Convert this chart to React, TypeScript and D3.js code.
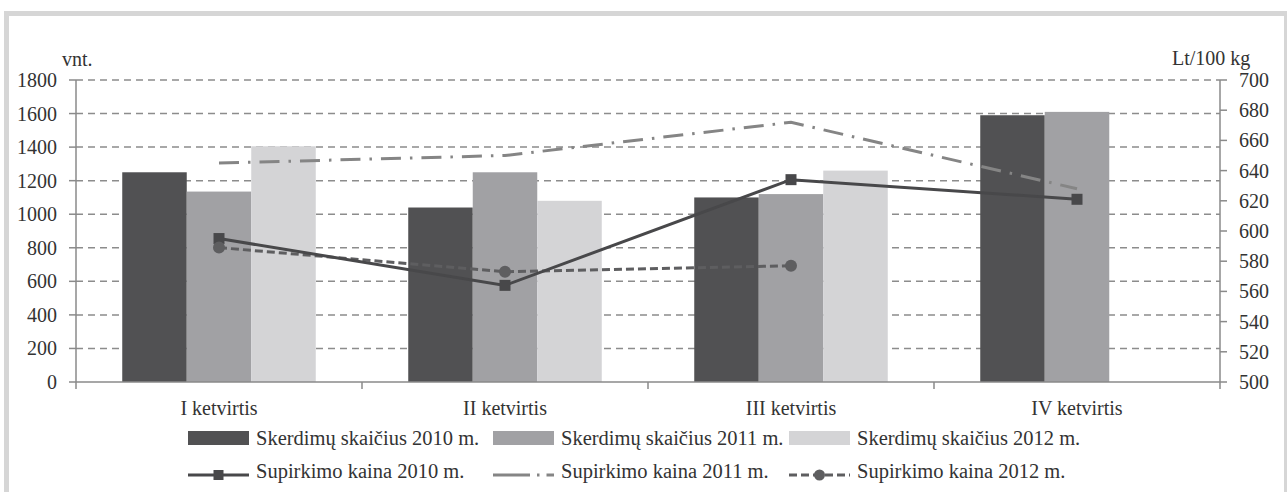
import React from "react";
import * as d3 from "d3";

const categories = ["I ketvirtis", "II ketvirtis", "III ketvirtis", "IV ketvirtis"];
const barSeries = ["Skerdimų skaičius 2010 m.", "Skerdimų skaičius 2011 m.", "Skerdimų skaičius 2012 m."];
const slaughter2010 = [1250, 1040, 1100, 1590];
const slaughter2011 = [1135, 1250, 1120, 1610];
const slaughter2012: (number | null)[] = [1405, 1080, 1260, null];
const lineSeries = ["Supirkimo kaina 2010 m.", "Supirkimo kaina 2011 m.", "Supirkimo kaina 2012 m."];
const price2010 = [595, 564, 634, 621];
const price2011 = [645, 650, 672, 628];
const price2012: (number | null)[] = [589, 573, 577, null];
const leftTicks = [0, 200, 400, 600, 800, 1000, 1200, 1400, 1600, 1800];
const rightTicks = [500, 520, 540, 560, 580, 600, 620, 640, 660, 680, 700];

const W = 1287, H = 492;
const L = 76, R = 1220, T = 80, B = 382;
const FONT = "'Liberation Serif', 'Times New Roman', serif";
const barColors = ["#515153", "#a1a1a4", "#d4d4d6"];
const axisColor = "#8a8a8a";
const textColor = "#333";

export default function App() {
  const x0 = d3.scaleBand<string>().domain(categories).range([L, R]).padding(0);
  const bw = x0.bandwidth();
  const groupW = bw * 0.6766;
  const x1 = d3.scaleBand<string>().domain(barSeries).range([(bw - groupW) / 2, (bw + groupW) / 2]).padding(0);
  const yL = d3.scaleLinear().domain([0, 1800]).range([B, T]);
  const yR = d3.scaleLinear().domain([500, 700]).range([B, T]);
  const barData = [slaughter2010, slaughter2011, slaughter2012];
  const cx = (c: string) => (x0(c) as number) + bw / 2;

  const line = d3
    .line<number | null>()
    .defined((d) => d != null)
    .x((_, i) => cx(categories[i]))
    .y((d) => yR(d as number));

  const cols = [188, 493, 789];
  const symW = 61;
  const row1 = 445, row2 = 478;
  const ms = 11;

  return (
    <svg width={W} height={H} style={{ position: "absolute", left: 0, top: 0, background: "#fff" }} fontFamily={FONT}>
      <rect x={0} y={0} width={W} height={H} fill="#fff" />
      <rect x={6.5} y={13.5} width={1280} height={520} fill="#fff" stroke="#d6d6d6" strokeWidth={5} />

      {leftTicks.filter((t) => t > 0).map((t) => (
        <line key={"g" + t} x1={L} x2={R} y1={yL(t)} y2={yL(t)} stroke="#8c8c8c" strokeWidth={1.5} strokeDasharray="7,5" />
      ))}

      {barData.map((vals, si) =>
        vals.map((v, ci) =>
          v == null ? null : (
            <rect
              key={`b${si}-${ci}`}
              x={(x0(categories[ci]) as number) + (x1(barSeries[si]) as number)}
              y={yL(v)}
              width={x1.bandwidth()}
              height={B - yL(v)}
              fill={barColors[si]}
            />
          )
        )
      )}

      <line x1={L} x2={L} y1={T} y2={B + 7} stroke={axisColor} strokeWidth={1.5} />
      <line x1={R} x2={R} y1={T} y2={B + 7} stroke={axisColor} strokeWidth={1.5} />
      <line x1={L} x2={R} y1={B} y2={B} stroke={axisColor} strokeWidth={1.5} />
      {categories.slice(1).map((c) => (
        <line key={"ct" + c} x1={x0(c) as number} x2={x0(c) as number} y1={B} y2={B + 7} stroke={axisColor} strokeWidth={1.5} />
      ))}
      {leftTicks.map((t) => (
        <g key={"lt" + t}>
          <line x1={L - 7} x2={L} y1={yL(t)} y2={yL(t)} stroke={axisColor} strokeWidth={1.5} />
          <text x={57} y={yL(t)} dy="0.35em" textAnchor="end" fontSize={20} fill={textColor}>{t}</text>
        </g>
      ))}
      {rightTicks.map((t) => (
        <g key={"rt" + t}>
          <line x1={R} x2={R + 7} y1={yR(t)} y2={yR(t)} stroke={axisColor} strokeWidth={1.5} />
          <text x={1239} y={yR(t)} dy="0.35em" textAnchor="start" fontSize={20} fill={textColor}>{t}</text>
        </g>
      ))}
      <text x={62} y={66} fontSize={20} fill={textColor}>vnt.</text>
      <text x={1172} y={65} fontSize={20} fill={textColor}>Lt/100 kg</text>
      {categories.map((c) => (
        <text key={"cl" + c} x={cx(c)} y={415} textAnchor="middle" fontSize={20} fill={textColor}>{c}</text>
      ))}

      <path d={line(price2011) || ""} fill="none" stroke="#858585" strokeWidth={3} strokeDasharray="20,9,2.5,9" />
      <path d={line(price2012) || ""} fill="none" stroke="#5e5e60" strokeWidth={3} strokeDasharray="8,4" />
      <path d={line(price2010) || ""} fill="none" stroke="#48484a" strokeWidth={3} />
      {price2010.map((v, i) => (
        <rect key={"m10" + i} x={cx(categories[i]) - ms / 2} y={yR(v) - ms / 2} width={ms} height={ms} fill="#48484a" />
      ))}
      {price2012.map((v, i) =>
        v == null ? null : <circle key={"m12" + i} cx={cx(categories[i])} cy={yR(v)} r={6} fill="#5e5e60" />
      )}

      {barSeries.map((s, i) => (
        <g key={"lb" + i}>
          <rect x={cols[i]} y={431} width={symW} height={14} fill={barColors[i]} />
          <text x={cols[i] + 68} y={row1} fontSize={20.5} fill={textColor}>{s}</text>
        </g>
      ))}
      <line x1={cols[0]} x2={cols[0] + symW} y1={475} y2={475} stroke="#48484a" strokeWidth={3} />
      <rect x={cols[0] + symW / 2 - 5} y={470} width={10} height={10} fill="#48484a" />
      <line x1={cols[1]} x2={cols[1] + symW} y1={475} y2={475} stroke="#858585" strokeWidth={3} strokeDasharray="37,7,2.5,7,9" />
      <line x1={cols[2]} x2={cols[2] + symW} y1={475} y2={475} stroke="#5e5e60" strokeWidth={3} strokeDasharray="8,4" />
      <circle cx={cols[2] + symW / 2} cy={475} r={5.5} fill="#5e5e60" />
      {lineSeries.map((s, i) => (
        <text key={"ll" + i} x={cols[i] + 68} y={row2} fontSize={20.5} fill={textColor}>{s}</text>
      ))}
    </svg>
  );
}
